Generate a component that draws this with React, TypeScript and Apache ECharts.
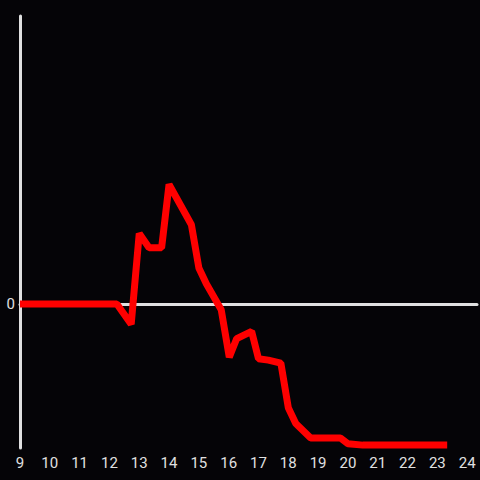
import React, { useEffect, useRef } from "react";
import * as echarts from "echarts";

const hours = [9, 12.25, 12.73, 13.0, 13.33, 13.75, 14.0, 14.75, 15.0, 15.25, 15.75, 16.02, 16.27, 16.77, 17.0, 17.33, 17.75, 18.0, 18.25, 18.75, 19.75, 20.0, 20.5, 23.33];
const values = [0, 0, -0.14, 0.49, 0.39, 0.39, 0.83, 0.55, 0.25, 0.14, -0.04, -0.37, -0.24, -0.19, -0.38, -0.39, -0.41, -0.72, -0.83, -0.93, -0.93, -0.97, -0.98, -0.98];
const xTicks = [9, 10, 11, 12, 13, 14, 15, 16, 17, 18, 19, 20, 21, 22, 23, 24];

export default function App() {
  const ref = useRef<HTMLDivElement>(null);
  useEffect(() => {
    document.body.style.margin = "0";
    document.body.style.overflow = "hidden";
    const chart = echarts.init(ref.current!, null, { renderer: "svg", width: 480, height: 480 });
    const data = hours.map((h, i) => [h, values[i]]);
    chart.setOption({
      animation: false,
      backgroundColor: "#050407",
      textStyle: { fontFamily: "Roboto" },
      grid: { left: 20, right: 0, top: 16, bottom: 32 },
      xAxis: [
        {
          type: "value",
          min: 9,
          max: 24.33,
          interval: 1,
          axisLine: { show: false, onZero: false },
          axisTick: { show: false },
          splitLine: { show: false },
          axisLabel: {
            color: "#e0e0e0",
            fontSize: 15,
            fontFamily: "Roboto",
            margin: 7,
            formatter: (v: number) => (xTicks.includes(v) ? String(v) : ""),
          },
        },
        {
          type: "value",
          min: 9,
          max: 24.33,
          interval: 1,
          position: "bottom",
          axisLine: { show: true, onZero: true, lineStyle: { color: "#e0e0e0", width: 3 } },
          axisTick: { show: false },
          splitLine: { show: false },
          axisLabel: { show: false },
        },
      ],
      yAxis: {
        type: "value",
        min: -1,
        max: 2,
        interval: 1,
        axisLine: { show: true, onZero: false, lineStyle: { color: "#e0e0e0", width: 3 } },
        axisTick: { show: false },
        splitLine: { show: false },
        axisLabel: {
          color: "#e0e0e0",
          fontSize: 15,
          fontFamily: "Roboto",
          margin: 5,
          formatter: (v: number) => (v === 0 ? "0" : ""),
        },
      },
      series: [
        {
          type: "line",
          xAxisIndex: 0,
          data,
          symbol: "none",
          lineStyle: { color: "#ff0000", width: 7 },
          z: 3,
        },
      ],
    });
    return () => chart.dispose();
  }, []);
  return <div ref={ref} style={{ width: 480, height: 480 }} />;
}
